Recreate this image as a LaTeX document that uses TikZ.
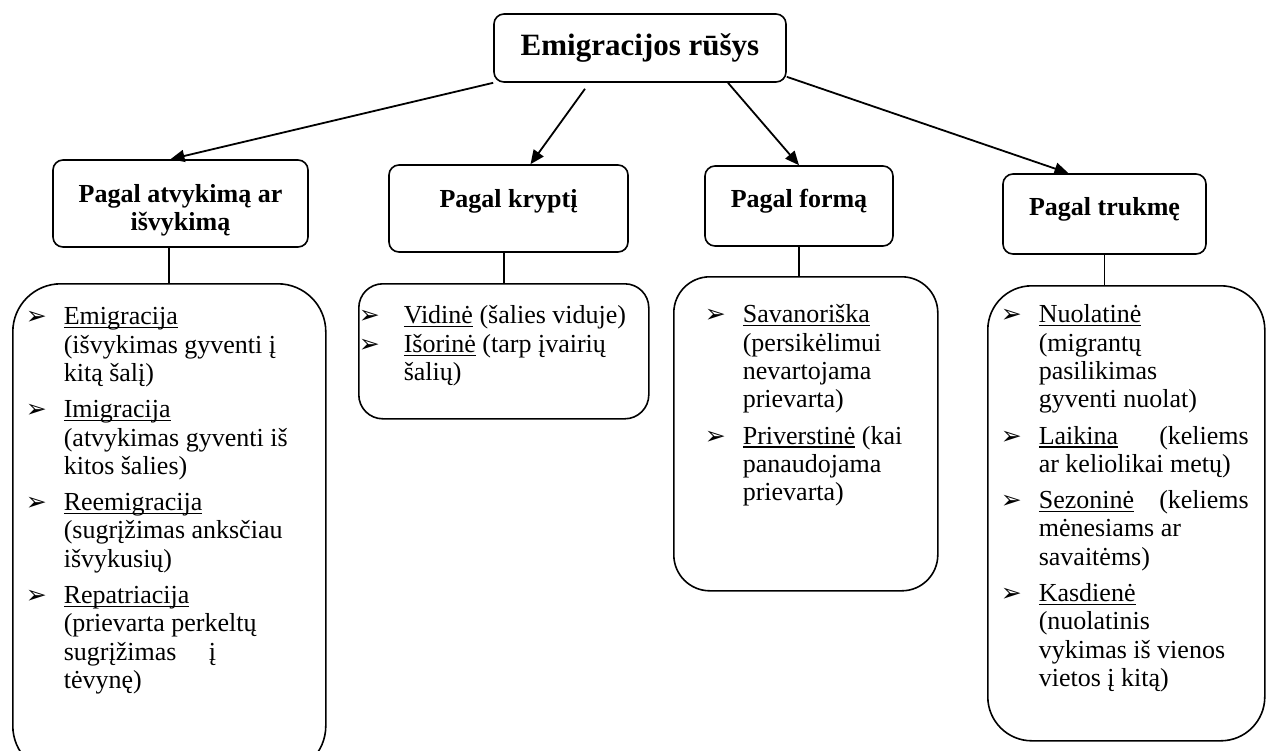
\documentclass[tikz,border=0pt]{standalone}
\usepackage{fontspec}
\setmainfont{Liberation Serif}
\newfontfamily\arrowfont{DejaVu Sans Bold}
\usetikzlibrary{arrows.meta, positioning, calc}

\newlength{\itemind}
\newsavebox{\termbox}
\newcommand{\uterm}[1]{\sbox{\termbox}{#1}\rlap{\rule[-1.8pt]{\wd\termbox}{0.6pt}}\usebox{\termbox}}
\newcommand{\listarrow}{{\arrowfont\fontsize{12.5}{14}\selectfont ➢}}
\newcommand{\litem}[1]{\par\noindent\hangindent=\itemind\hangafter=1\makebox[\itemind][l]{\listarrow}\rule{0pt}{10pt}#1\par}
\newcommand{\hd}[1]{\rule{0pt}{#1}}
% width, height, left, top, indent, gap, items
\newcommand{\listbody}[7]{\parbox[c][#2][t]{#1}{\fontsize{13}{14.15}\selectfont
  \setlength{\parskip}{#6}\setlength{\leftskip}{#3}\setlength{\itemind}{#5}\vspace*{#4}#7}}

\tikzset{
  titlebox/.style={draw, rounded corners=5pt, line width=0.8pt, font=\fontsize{15.5}{19}\selectfont\bfseries, minimum width=146pt, minimum height=34pt},
  groupbox/.style={draw, rounded corners=5pt, line width=0.8pt, align=center, font=\fontsize{13}{14}\selectfont\bfseries},
  listbox/.style={draw, rounded corners=#1, line width=0.8pt, inner sep=0pt, anchor=north west},
  link/.style={-{Triangle[length=7pt,width=6pt]}, line width=0.9pt},
  stem/.style={line width=0.9pt}
}

\begin{document}
\begin{tikzpicture}[x=0.5pt, y=-0.5pt]
  \useasboundingbox (0,0) rectangle (1266,751);

  \node[titlebox] (title) at (640,48) {Emigracijos rūšys};

  \node[groupbox, minimum width=127.5pt, minimum height=43.5pt] (atvyk) at (180.5,203.5) {\hd{16pt}Pagal atvykimą ar\\išvykimą};
  \node[groupbox, minimum width=119.5pt, minimum height=43.5pt] (kryp) at (508.5,208.5) {\hd{13pt}Pagal kryptį\\\mbox{}};
  \node[groupbox, minimum width=94pt, minimum height=40pt] (forma) at (799,206) {\hd{15.5pt}Pagal formą\\\mbox{}};
  \node[groupbox, minimum width=101.5pt, minimum height=40pt] (trukme) at (1104.5,214) {\hd{15.5pt}Pagal trukmę\\\mbox{}};

  % lists
  \node[listbox=24pt] (atvyklist) at (12,283) {\listbody{156.5pt}{245pt}{6.5pt}{6.5pt}{19pt}{4pt}{%
    \litem{\uterm{Emigracija}\newline (išvykimas gyventi į\newline kitą šalį)}
    \litem{\uterm{Imigracija}\newline (atvykimas gyventi iš\newline kitos šalies)}
    \litem{\uterm{Reemigracija}\newline (sugrįžimas anksčiau\newline išvykusių)}
    \litem{\uterm{Repatriacija}\newline (prievarta perkeltų\newline sugrįžimas\hspace{13pt} į\newline tėvynę)}}};
  \node[listbox=12pt] (kryplist) at (358,283) {\listbody{145pt}{67.5pt}{0pt}{10pt}{22.5pt}{0pt}{%
    \litem{\uterm{Vidinė} (šalies viduje)}
    \litem{\uterm{Išorinė} (tarp įvairių\newline šalių)}}};
  \node[listbox=18pt] (formalist) at (673,276) {\listbody{132pt}{157pt}{15.5pt}{9pt}{19pt}{4pt}{%
    \litem{\uterm{Savanoriška}\newline (persikėlimui\newline nevartojama\newline prievarta)}
    \litem{\uterm{Priverstinė} (kai\newline panaudojama\newline prievarta)}}};
  \node[listbox=22pt] (trukmelist) at (987,285) {\listbody{138.5pt}{227.5pt}{6.5pt}{4.5pt}{19pt}{4pt}{%
    \litem{\uterm{Nuolatinė}\newline (migrantų\newline pasilikimas\newline gyventi nuolat)}
    \litem{\makebox[105pt][l]{\uterm{Laikina}\hfill(keliems}\newline ar keliolikai metų)}
    \litem{\makebox[105pt][l]{\uterm{Sezoninė}\hfill(keliems}\newline mėnesiams ar\newline savaitėms)}
    \litem{\uterm{Kasdienė}\newline (nuolatinis\newline vykimas iš vienos\newline vietos į kitą)}}};

  % arrows from the title
  \draw[link] (title.south west) -- ($(atvyk.north)+(-10,0)$);
  \draw[link] ($(title.south)+(-55,6)$) -- ($(kryp.north)+(22,0)$);
  \draw[link] ($(title.south)+(88,0)$) -- (forma.north);
  \draw[link] ($(title.south east)+(0,-6)$) -- ($(trukme.north)+(-36,0)$);

  \draw[stem] (atvyklist.north) -- (atvyklist.north |- atvyk.south);
  \draw[stem] (kryplist.north) -- (kryplist.north |- kryp.south);
  \draw[stem] (forma.south) -- (forma.south |- formalist.north);
  \draw[stem] (trukme.south) -- (trukme.south |- trukmelist.north);
\end{tikzpicture}
\end{document}
